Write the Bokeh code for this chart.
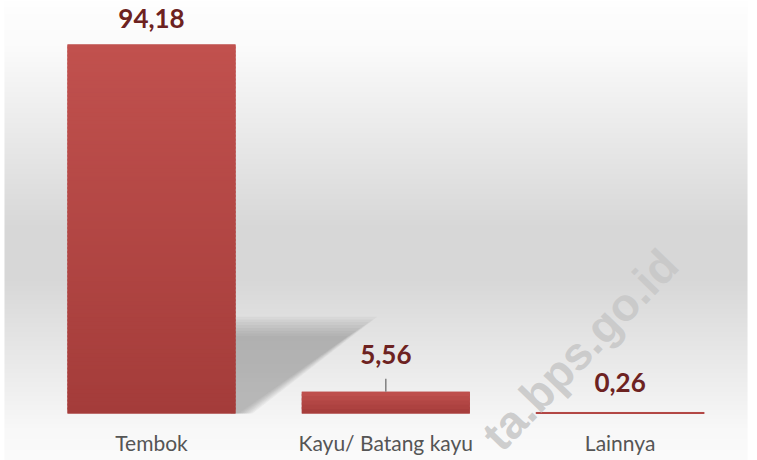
import numpy as np
from bokeh.plotting import figure
from bokeh.models import Range1d
from bokeh.embed import file_html
from bokeh.resources import INLINE
from bokeh.core.properties import value

# ---- data ----
categories = ["Tembok", "Kayu/ Batang kayu", "Lainnya"]
values = [94.18, 5.56, 0.26]
value_labels = ["94,18", "5,56", "0,26"]
watermark_text = "ta.bps.go.id"

# ---- layout / style ----
W, H = 757, 460
X0_PX, STEP_PX = 151.0, 234.3          # centre of first bar, spacing (px)
BASE_PX, PX_PER_UNIT = 413.0, 3.918     # baseline from top (px), px per %
x_start = -X0_PX / STEP_PX
x_end = (W - X0_PX) / STEP_PX
y_start = -(H - BASE_PX) / PX_PER_UNIT
y_end = BASE_PX / PX_PER_UNIT
BAR_W = 168.0 / STEP_PX

def px_to_x(px):
    return (px - X0_PX) / STEP_PX

def px_to_y(py):
    return (BASE_PX - py) / PX_PER_UNIT

label_offsets = [-26, -37, -30]   # px above bar top (negative = up)
leader_px = [0, 13, 0]

p = figure(width=W, height=H, x_range=Range1d(x_start, x_end),
           y_range=Range1d(y_start, y_end), output_backend="svg",
           toolbar_location=None, min_border=0, outline_line_color=None,
           x_axis_type=None, y_axis_type=None)
p.grid.visible = False
p.background_fill_color = "white"
p.border_fill_color = "white"

# ---- background gradient (white - grey - white) ----
rows = np.arange(H)
t_from_top = 1.0 - rows / (H - 1)
grey = np.interp(t_from_top, [0.0, 0.03, 0.1, 0.5, 0.6, 0.93, 1.0],
                 [255, 253, 251, 215, 215, 248, 251]).astype(np.uint8)
img = np.empty((H, 4), dtype=np.uint32)
view = img.view(dtype=np.uint8).reshape((H, 4, 4))
view[:, :, 0] = grey[:, None]
view[:, :, 1] = grey[:, None]
view[:, :, 2] = grey[:, None]
view[:, :, 3] = 255
p.image_rgba(image=[img], x=px_to_x(4), y=y_start,
             dw=px_to_x(747) - px_to_x(4), dh=y_end - y_start)

# ---- soft shadow behind first bar ----
xr = 0 + BAR_W / 2
for k in range(8):
    d = (3.5 - k) * 2.8
    top = px_to_y(326 - d)
    tip = xr + (127 + d * 1.5) / STEP_PX
    bot = xr + (10 + d * 0.7) / STEP_PX
    p.patch([xr - 0.02, tip, bot, xr - 0.02], [top, top, 0, 0],
            fill_color="#7a7a7a", fill_alpha=0.075, line_color=None)

# ---- bars with vertical gradient ----
top_rgb = np.array([193, 81, 78])
bot_rgb = np.array([164, 60, 58])
mid_hex = "#%02x%02x%02x" % tuple(int(q) for q in (top_rgb + bot_rgb) / 2)
p.vbar(x=[0, 1, 2], width=BAR_W, top=values, fill_color=mid_hex,
       line_color=mid_hex, line_width=1, line_alpha=[0.0, 0.0, 1.0])
xs, bots, tops, cols = [], [], [], []
for i, v in enumerate(values):
    n = max(1, int(v * PX_PER_UNIT / 4))
    if n < 2:
        continue
    for k in range(n):
        f = (k + 0.5) / n
        c = bot_rgb + (top_rgb - bot_rgb) * f
        xs.append(i)
        bots.append(v * k / n)
        tops.append(min(v, v * (k + 1.5) / n))
        cols.append("#%02x%02x%02x" % tuple(int(round(q)) for q in c))
p.vbar(x=xs, width=BAR_W, bottom=bots, top=tops, fill_color=cols, line_color=None)

# ---- leader line ----
for i, v in enumerate(values):
    if leader_px[i] > 0:
        p.segment(x0=[i], x1=[i], y0=[v], y1=[v + leader_px[i] / PX_PER_UNIT],
                  line_color="#808080", line_width=1.5)

# ---- value labels ----
p.text(x=[0, 1, 2], y=values, text=value_labels, y_offset=label_offsets,
       text_align="center", text_baseline="alphabetic",
       text_font=value("Lato"), text_font_style="bold", text_font_size="26px",
       text_color="#6d2221")

# ---- category labels ----
p.text(x=[0, 1, 2], y=[0, 0, 0], text=categories, y_offset=[29, 29, 29],
       text_align="center", text_baseline="alphabetic",
       text_font=value("Lato"), text_font_size="21px", text_color="#555555")

# ---- watermark ----
p.text(x=[px_to_x(490)], y=[px_to_y(442)], text=[watermark_text],
       angle=46, angle_units="deg", text_align="left", text_baseline="alphabetic",
       text_font=value("Liberation Sans"), text_font_style="bold",
       text_font_size="46px", text_color="#c8c8c8", text_alpha=0.9)

open("out.html", "w").write(file_html(p, INLINE))
